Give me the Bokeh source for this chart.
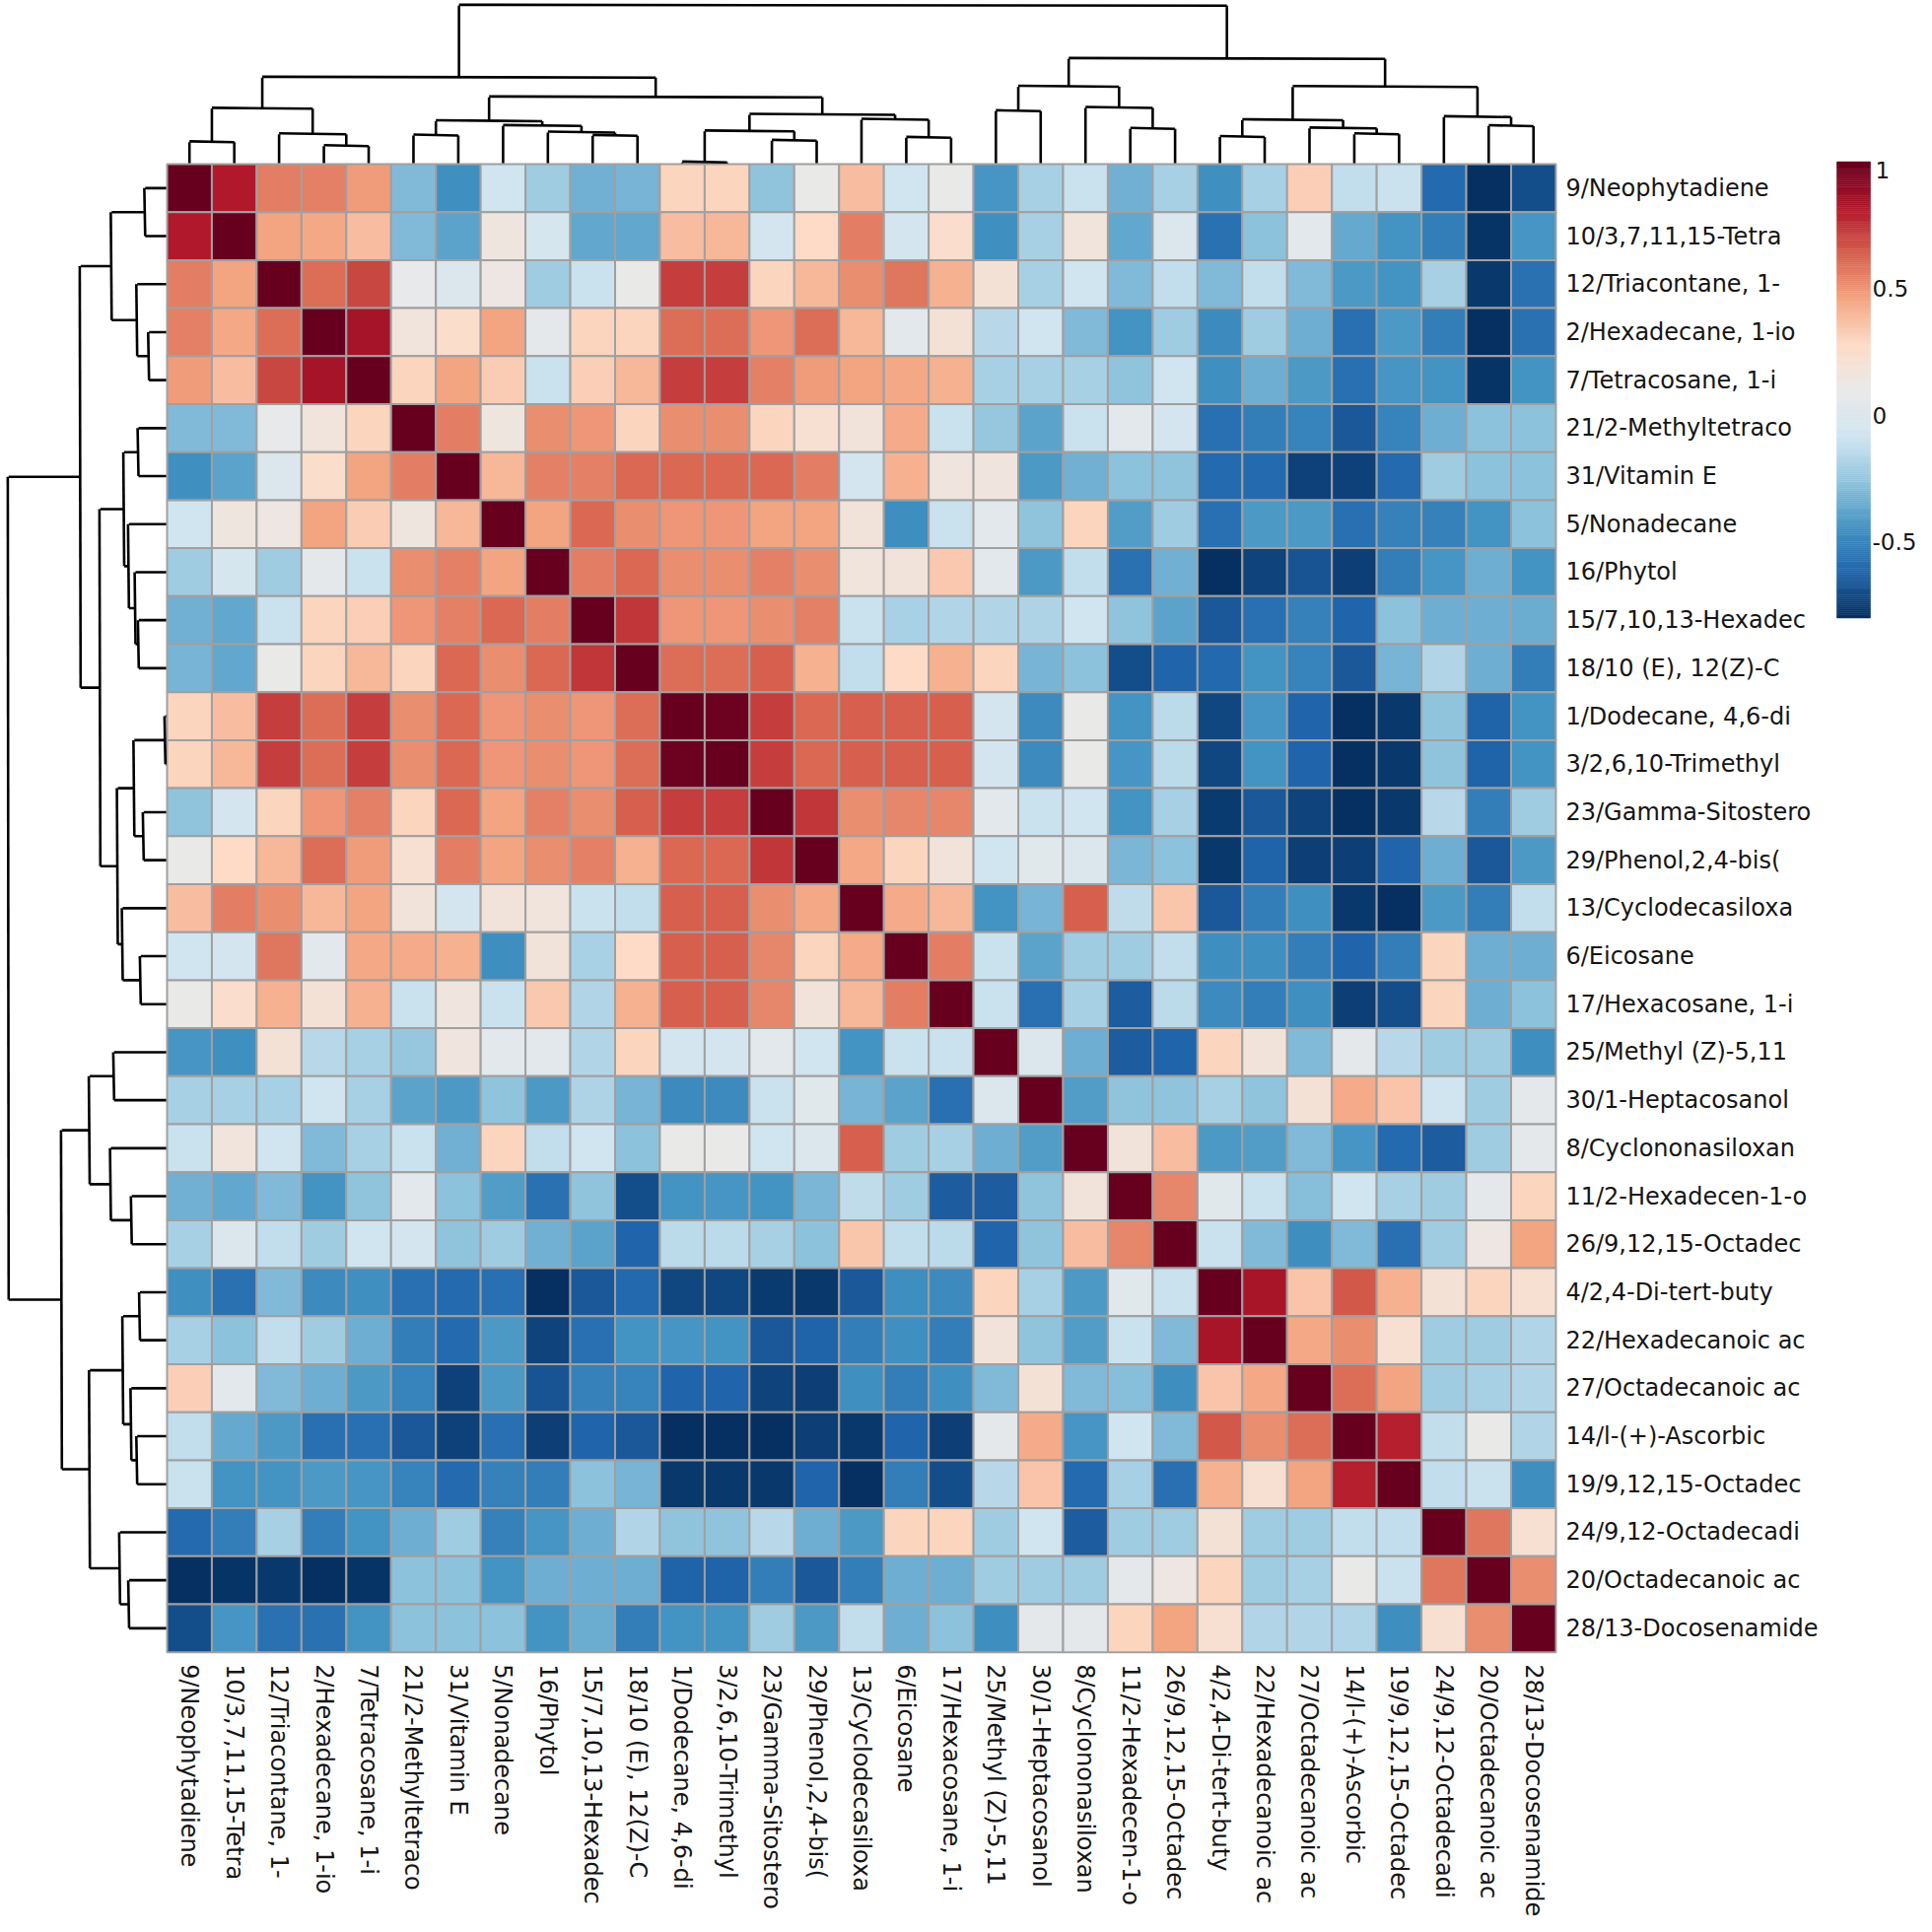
import numpy as np
from bokeh.plotting import figure
from bokeh.models import Range1d, LinearColorMapper, ColumnDataSource
from bokeh.core.properties import value
from bokeh.transform import transform
from bokeh.embed import file_html
from bokeh.resources import INLINE

# ---------------- data ----------------
labels = [
    "9/Neophytadiene", "10/3,7,11,15-Tetra", "12/Triacontane, 1-", "2/Hexadecane, 1-io",
    "7/Tetracosane, 1-i", "21/2-Methyltetraco", "31/Vitamin E", "5/Nonadecane",
    "16/Phytol", "15/7,10,13-Hexadec", "18/10 (E), 12(Z)-C", "1/Dodecane, 4,6-di",
    "3/2,6,10-Trimethyl", "23/Gamma-Sitostero", "29/Phenol,2,4-bis(", "13/Cyclodecasiloxa",
    "6/Eicosane", "17/Hexacosane, 1-i", "25/Methyl (Z)-5,11", "30/1-Heptacosanol",
    "8/Cyclononasiloxan", "11/2-Hexadecen-1-o", "26/9,12,15-Octadec", "4/2,4-Di-tert-buty",
    "22/Hexadecanoic ac", "27/Octadecanoic ac", "14/l-(+)-Ascorbic", "19/9,12,15-Octadec",
    "24/9,12-Octadecadi", "20/Octadecanoic ac", "28/13-Docosenamide",
]

# upper triangle of the correlation matrix (row i, columns i+1 .. 30)
corr_upper = [
    [.82, .56, .55, .48, -.30, -.45, -.08, -.22, -.33, -.32, .30, .30, -.26, .10, .38, -.08, .10, -.43, -.20, -.10, -.33, -.20, -.45, -.20, .32, -.12, -.10, -.60, -.80, -.70],
    [.46, .45, .38, -.30, -.38, .15, -.05, -.37, -.37, .38, .40, -.06, .28, .56, -.06, .25, -.45, -.20, .17, -.37, .00, -.57, -.27, .05, -.36, -.44, -.52, -.78, -.43],
    [.60, .70, .08, .00, .14, -.22, -.10, .10, .72, .72, .30, .40, .52, .58, .42, .20, -.20, -.08, -.30, -.12, -.30, -.12, -.30, -.42, -.44, -.20, -.77, -.57],
    [.85, .17, .26, .46, .06, .30, .30, .60, .60, .50, .60, .40, .05, .20, -.15, -.08, -.30, -.44, -.22, -.47, -.22, -.34, -.58, -.42, -.52, -.80, -.57],
    [.30, .46, .33, -.10, .32, .40, .72, .72, .55, .48, .46, .45, .42, -.20, -.20, -.20, -.26, -.08, -.45, -.34, -.42, -.58, -.43, -.44, -.78, -.44],
    [.56, .15, .52, .50, .30, .52, .52, .30, .22, .18, .44, -.10, -.25, -.38, -.10, .05, -.06, -.58, -.52, -.50, -.66, -.50, -.34, -.27, -.27],
    [.40, .55, .55, .62, .62, .62, .62, .56, -.06, .42, .16, .16, -.42, -.33, -.27, -.26, -.60, -.60, -.74, -.74, -.60, -.22, -.27, -.27],
    [.46, .62, .52, .50, .50, .46, .46, .18, -.46, -.10, .05, -.26, .30, -.40, -.22, -.58, -.42, -.42, -.58, -.51, -.51, -.44, -.27],
    [.56, .62, .52, .52, .55, .52, .17, .18, .34, .05, -.42, -.12, -.57, -.33, -.80, -.73, -.68, -.75, -.52, -.43, -.34, -.44],
    [.74, .50, .50, .52, .55, -.10, -.19, -.17, -.17, -.18, -.08, -.26, -.38, -.66, -.58, -.51, -.62, -.27, -.34, -.34, -.35],
    [.60, .60, .64, .42, -.12, .28, .42, .30, -.32, -.27, -.70, -.62, -.61, -.44, -.50, -.66, -.32, -.17, -.34, -.52],
    [.98, .72, .62, .64, .64, .64, -.06, -.47, .10, -.44, -.14, -.72, -.43, -.62, -.80, -.77, -.26, -.63, -.44],
    [.72, .62, .64, .64, .64, -.06, -.47, .10, -.43, -.14, -.72, -.44, -.62, -.80, -.77, -.26, -.63, -.44],
    [.74, .52, .54, .54, .05, -.10, -.08, -.44, -.20, -.76, -.66, -.73, -.80, -.77, -.15, -.52, -.22],
    [.45, .30, .18, -.08, .04, .00, -.31, -.27, -.77, -.63, -.75, -.75, -.62, -.34, -.66, -.42],
    [.44, .40, -.44, -.32, .64, -.13, .35, -.66, -.52, -.45, -.77, -.80, -.42, -.52, -.12],
    [.56, -.10, -.38, -.22, -.22, -.12, -.46, -.45, -.52, -.62, -.52, .30, -.34, -.34],
    [-.10, -.58, -.20, -.65, -.14, -.47, -.52, -.45, -.75, -.70, .30, -.34, -.27],
    [.00, -.34, -.65, -.62, .30, .18, -.30, .06, -.15, -.22, -.22, -.46],
    [-.40, -.26, -.26, -.20, -.26, .20, .44, .36, -.08, -.22, .06],
    [.18, .38, -.42, -.40, -.30, -.43, -.60, -.65, -.22, .06],
    [.54, .04, -.10, -.28, -.08, -.20, -.22, .06, .30],
    [-.10, -.30, -.46, -.30, -.58, -.22, .14, .46],
    [.84, .36, .66, .42, .20, .30, .22],
    [.45, .52, .22, -.22, -.22, -.17],
    [.60, .46, -.22, -.20, -.17],
    [.80, -.12, .10, -.17],
    [-.12, -.10, -.46],
    [.58, .22],
    [.52],
]

# hierarchical clustering merges: (child a, child b, height); new node ids start at 31
merges = [
    (11, 12, 0.17), (3, 4, 1.83), (0, 1, 2.22), (13, 14, 2.37), (16, 17, 2.67),
    (23, 24, 2.75), (5, 6, 2.90), (9, 10, 2.87), (2, 32, 3.03), (26, 27, 3.03),
    (8, 38, 3.20), (31, 34, 3.32), (21, 22, 3.58), (25, 40, 3.62), (7, 41, 3.87),
    (29, 30, 3.85), (37, 45, 4.35), (36, 44, 4.45), (15, 35, 4.50), (28, 46, 4.77),
    (42, 49, 5.00), (18, 19, 5.37), (33, 39, 5.62), (20, 43, 5.70), (47, 51, 6.77),
    (52, 54, 7.85), (48, 50, 7.83), (53, 55, 8.77), (56, 57, 10.67), (58, 59, 16.07),
]

color_low, color_high = -0.8, 1.0
color_ticks = [1, 0.5, 0, -0.5]
tick_text = ["1", "0.5", "0", "-0.5"]

# ---------------- layout (figure pixels) ----------------
W, H = 1944, 1944
HX0, HY0 = 169.0, 166.0      # heatmap top-left
CW, CH = 45.45, 48.7          # cell size
DEND_PX = 10.0                # pixels per dendrogram height unit
CB_X0, CB_X1 = 1863.0, 1897.0
CB_Y0, CB_Y1 = 163.6, 626.5
FONT = value("DejaVu Sans")
FS = "24px"
TXT_COL = "#151515"

def fx(px):
    return (px - HX0) / CW

def fy(py):
    return (py - HY0) / CH

n = len(labels)
M = np.eye(n)
for i, row in enumerate(corr_upper):
    for k, v in enumerate(row):
        j = i + 1 + k
        M[i, j] = v
        M[j, i] = v

# palette: reversed RdBu ramp
anchors = ["#053061", "#2166ac", "#4393c3", "#92c5de", "#d1e5f0", "#e9e9e9",
           "#fddbc7", "#f4a582", "#d6604d", "#b2182b", "#67001f"]
def hex2rgb(h):
    return np.array([int(h[i:i + 2], 16) for i in (1, 3, 5)], dtype=float)
arr = np.array([hex2rgb(a) for a in anchors])
tt = np.linspace(0, 1, 256)
ta = np.linspace(0, 1, len(anchors))
palette = []
for t in tt:
    rgb = [np.interp(t, ta, arr[:, c]) for c in range(3)]
    palette.append("#%02x%02x%02x" % tuple(int(round(c)) for c in rgb))
mapper = LinearColorMapper(palette=palette, low=color_low, high=color_high)

p = figure(width=W, height=H, output_backend="svg", toolbar_location=None,
           x_range=Range1d(fx(0), fx(W)), y_range=Range1d(fy(H), fy(0)),
           min_border=0, background_fill_color="white", border_fill_color="white")
p.axis.visible = False
p.grid.visible = False
p.outline_line_color = None

# heatmap cells
xs, ys, vs = [], [], []
for r in range(n):
    for c in range(n):
        xs.append(c + 0.5)
        ys.append(r + 0.5)
        vs.append(M[r, c])
src = ColumnDataSource(dict(x=xs, y=ys, v=vs))
p.rect(x="x", y="y", width=1, height=1, source=src,
       fill_color=transform("v", mapper), line_color="#a0a0a0", line_width=2)

# dendrograms
pos = {i: i + 0.5 for i in range(n)}
hgt = {i: 0.0 for i in range(n)}
segs = []
for k, (a, b, h) in enumerate(merges):
    node = n + k
    pos[node] = (pos[a] + pos[b]) / 2.0
    hgt[node] = h
    segs.append((pos[a], hgt[a], pos[a], h))
    segs.append((pos[b], hgt[b], pos[b], h))
    segs.append((pos[a], h, pos[b], h))
segs = np.array(segs)
# top (columns)
p.segment(x0=segs[:, 0], y0=-segs[:, 1] * DEND_PX / CH - 0.02,
          x1=segs[:, 2], y1=-segs[:, 3] * DEND_PX / CH,
          line_color="black", line_width=2.6)
# left (rows)
p.segment(x0=-segs[:, 1] * DEND_PX / CW - 0.02, y0=segs[:, 0],
          x1=-segs[:, 3] * DEND_PX / CW, y1=segs[:, 2],
          line_color="black", line_width=2.6)

# row labels
p.text(x=[fx(HX0 + n * CW + 10)] * n, y=[r + 0.5 for r in range(n)], text=labels,
       text_font=FONT, text_font_size=FS, text_color=TXT_COL,
       text_align="left", text_baseline="middle")
# column labels
p.text(x=[c + 0.5 for c in range(n)], y=[fy(HY0 + n * CH + 12)] * n, text=labels,
       angle=-np.pi / 2, text_font=FONT, text_font_size=FS, text_color=TXT_COL,
       text_align="left", text_baseline="middle")

# colour bar
cb_vals = np.linspace(color_low, color_high, 241)
def cb_y(v):
    return fy(CB_Y1 - (v - color_low) / (color_high - color_low) * (CB_Y1 - CB_Y0))
cb_src = ColumnDataSource(dict(
    bottom=[cb_y(v) for v in cb_vals[:-1]],
    top=[cb_y(v) for v in cb_vals[1:]],
    v=list((cb_vals[:-1] + cb_vals[1:]) / 2)))
p.quad(left=fx(CB_X0), right=fx(CB_X1), bottom="bottom", top="top", source=cb_src,
       fill_color=transform("v", mapper), line_color=transform("v", mapper), line_width=0.5)
p.text(x=[fx(1902)], y=[cb_y(color_ticks[0])], text=[tick_text[0]],
       text_font=FONT, text_font_size="23px", text_color=TXT_COL,
       text_align="left", text_baseline="top")
p.text(x=[fx(1899)] * 3, y=[cb_y(v) for v in color_ticks[1:]], text=tick_text[1:],
       text_font=FONT, text_font_size="23px", text_color=TXT_COL,
       text_align="left", text_baseline="middle")

open("out.html", "w").write(file_html(p, INLINE))
